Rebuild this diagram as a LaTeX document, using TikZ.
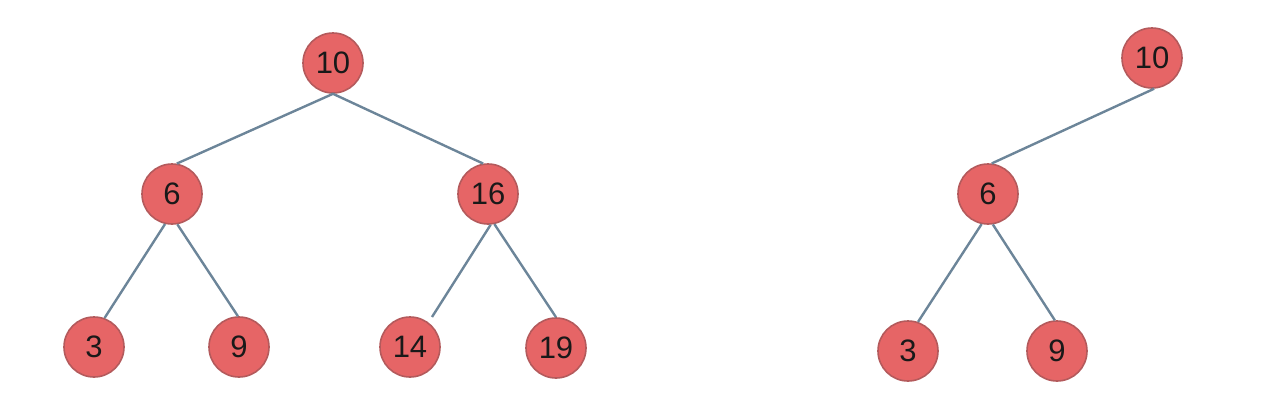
\documentclass[tikz,border=0pt]{standalone}
\usepackage{fontspec}
\setmainfont{Liberation Sans}
\definecolor{nodefill}{HTML}{E66566}
\definecolor{nodeline}{HTML}{B45A5C}
\definecolor{edgecol}{HTML}{6C8599}
\begin{document}
\begin{tikzpicture}[x=1pt,y=-1pt,
  hnode/.style={circle,fill=nodefill,draw=nodeline,line width=1.6pt,minimum size=60pt,inner sep=0pt,font=\fontsize{31}{32}\selectfont,text=black!90},
  hedge/.style={draw=edgecol,line width=2.4pt}]
\useasboundingbox (0,0) rectangle (1278,413);
% left tree
\node[hnode] (a10) at (333,63) {10};
\node[hnode] (a6) at (172,194) {6};
\node[hnode] (a16) at (488,194) {16};
\node[hnode] (a3) at (94,347) {3};
\node[hnode] (a9) at (239,347) {9};
\node[hnode] (a14) at (410,347) {14};
\node[hnode] (a19) at (556,348) {19};
\draw[hedge] (a10.-90) -- (a6.81);
\draw[hedge] (a10.-90) -- (a16.99);
\draw[hedge] (a6.-103) -- (a3.70);
\draw[hedge] (a6.-80) -- (a9.92);
\draw[hedge] (a16.-85) -- ([shift={(22,-30)}]a14.center);
\draw[hedge] (a16.-78) -- (a19.90);
% right tree
\node[hnode] (b10) at (1152,58) {10};
\node[hnode] (b6) at (988,194) {6};
\node[hnode] (b3) at (908,351) {3};
\node[hnode] (b9) at (1057,351) {9};
\draw[hedge] (b10.-86) -- (b6.83);
\draw[hedge] (b6.-102) -- (b3.71);
\draw[hedge] (b6.-81) -- (b9.94);
\end{tikzpicture}
\end{document}
